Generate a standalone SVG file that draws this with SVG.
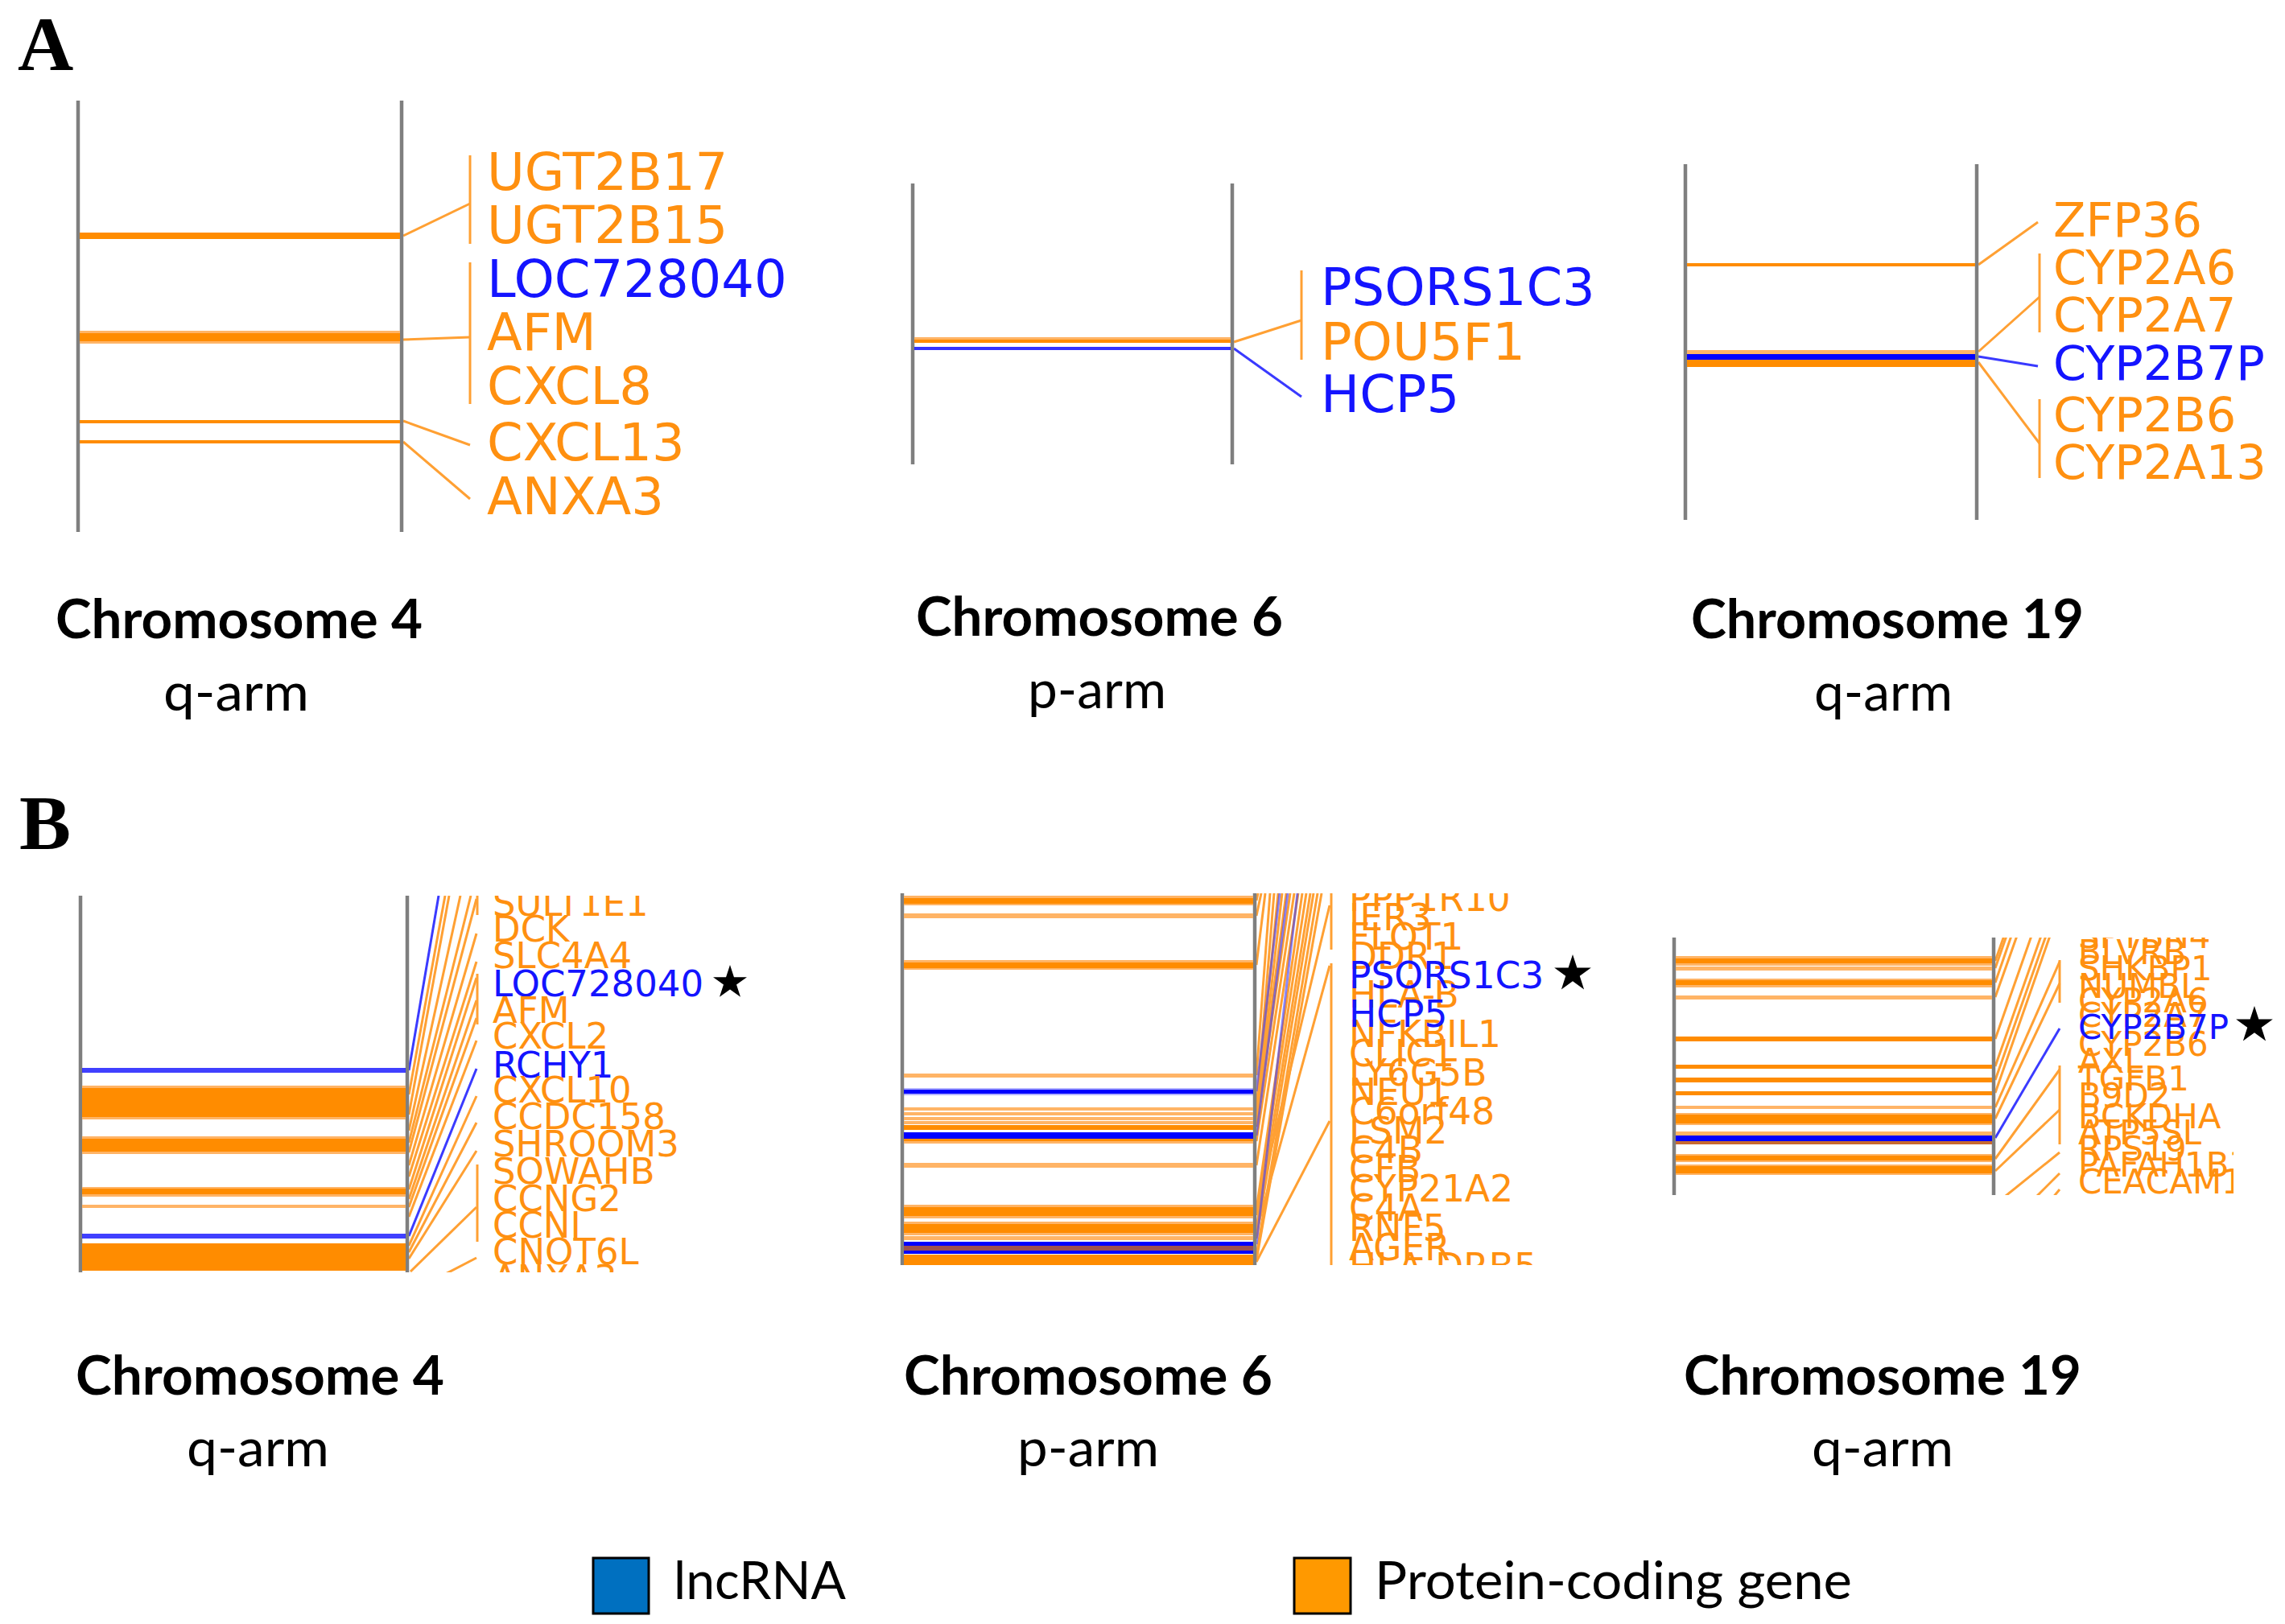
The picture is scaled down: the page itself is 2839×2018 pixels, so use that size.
<svg xmlns="http://www.w3.org/2000/svg" width="2839" height="2018" viewBox="0 0 2839 2018">
<defs>
<style>
.chr{stroke:#7f7f7f;stroke-width:4.5}
.co{stroke:#FFA033;stroke-width:3;fill:none}
.cb{stroke:#3A3AFF;stroke-width:3;fill:none}
.bo{fill:#FF8C00}
.bl{fill:#FFB466}
.bb{fill:#0000FF}
.g{font-family:'DejaVu Sans',Verdana,sans-serif}
.o{fill:#FF9010}
.b{fill:#1414FF}
.t{font-family:Lato,'Open Sans',sans-serif;font-weight:bold;font-size:66px;fill:#000}
.s{font-family:Lato,'Open Sans',sans-serif;font-size:66px;fill:#000}
.p{font-family:'Liberation Serif','Times New Roman',serif;font-weight:bold;font-size:96px;fill:#000}
</style>
<polygon id="star" points="0,-24 5.39,-7.42 22.83,-7.42 8.72,2.83 14.11,19.42 0,9.17 -14.11,19.42 -8.72,2.83 -22.83,-7.42 -5.39,-7.42" fill="#000"/>
<clipPath id="k4"><rect x="505" y="1113" width="100" height="468"/></clipPath>
<clipPath id="k6"><rect x="1559" y="1110" width="100" height="462"/></clipPath>
<clipPath id="k19"><rect x="2476" y="1165" width="90" height="320"/></clipPath>
<clipPath id="t4"><rect x="600" y="1113" width="280" height="468"/></clipPath>
<clipPath id="t6"><rect x="1665" y="1110" width="265" height="462"/></clipPath>
<clipPath id="t19"><rect x="2570" y="1165" width="205" height="320"/></clipPath>
</defs>
<rect width="2839" height="2018" fill="#fff"/>

<text class="p" x="22" y="87">A</text>
<text class="p" x="24" y="1055">B</text>

<g id="connectors">
<!-- Panel A chr4 -->
<line class="co" x1="501" y1="293" x2="584" y2="253"/>
<line class="co" x1="584" y1="193" x2="584" y2="303"/>
<line class="co" x1="501" y1="422" x2="584" y2="419"/>
<line class="co" x1="584" y1="326" x2="584" y2="502"/>
<line class="co" x1="501" y1="523" x2="584" y2="553"/>
<line class="co" x1="501" y1="549" x2="584" y2="620"/>
<!-- Panel A chr6 -->
<line class="co" x1="1533" y1="425" x2="1617" y2="398"/>
<line class="co" x1="1617" y1="336" x2="1617" y2="447"/>
<line class="cb" x1="1533" y1="433" x2="1617" y2="493"/>
<!-- Panel A chr19 -->
<line class="co" x1="2458" y1="329" x2="2532" y2="276"/>
<line class="co" x1="2458" y1="437" x2="2534" y2="369"/>
<line class="co" x1="2534" y1="315" x2="2534" y2="413"/>
<line class="cb" x1="2458" y1="443" x2="2532" y2="455"/>
<line class="co" x1="2458" y1="450" x2="2534" y2="551"/>
<line class="co" x1="2534" y1="496" x2="2534" y2="594"/>
<!-- Panel B chr4 -->
<g clip-path="url(#k4)">
<line class="co" x1="508" y1="1360" x2="553" y2="1113"/>
<line class="co" x1="508" y1="1385" x2="558" y2="1113"/>
<line class="co" x1="508" y1="1405" x2="572" y2="1113"/>
<line class="co" x1="508" y1="1420" x2="585" y2="1113"/>
<line class="co" x1="508" y1="1432" x2="592" y2="1117"/>
<line class="co" x1="508" y1="1448" x2="592" y2="1160"/>
<line class="co" x1="508" y1="1462" x2="592" y2="1195"/>
<line class="co" x1="508" y1="1478" x2="592" y2="1215"/>
<line class="co" x1="508" y1="1490" x2="592" y2="1243"/>
<line class="co" x1="508" y1="1500" x2="592" y2="1265"/>
<line class="co" x1="508" y1="1512" x2="592" y2="1293"/>
<line class="co" x1="508" y1="1548" x2="592" y2="1362"/>
<line class="co" x1="508" y1="1556" x2="592" y2="1395"/>
<line class="co" x1="508" y1="1564" x2="592" y2="1430"/>
<line class="co" x1="510" y1="1580" x2="592" y2="1500"/>
<line class="co" x1="540" y1="1590" x2="592" y2="1563"/>
<line class="cb" x1="508" y1="1330" x2="545" y2="1113"/>
<line class="cb" x1="508" y1="1536" x2="592" y2="1328"/>
<line class="co" x1="593" y1="1113" x2="593" y2="1137"/>
<line class="co" x1="593" y1="1210" x2="593" y2="1273"/>
<line class="co" x1="593" y1="1447" x2="593" y2="1543"/>
</g>
<!-- Panel B chr6 -->
<g clip-path="url(#k6)">
<line class="co" x1="1561" y1="1119" x2="1563" y2="1110"/>
<line class="co" x1="1561" y1="1138" x2="1567" y2="1110"/>
<line class="co" x1="1561" y1="1199" x2="1572" y2="1110"/>
<line class="co" x1="1561" y1="1336" x2="1578" y2="1110"/>
<line class="co" x1="1561" y1="1378" x2="1583" y2="1110"/>
<line class="co" x1="1561" y1="1384" x2="1588" y2="1110"/>
<line class="co" x1="1561" y1="1390" x2="1593" y2="1110"/>
<line class="co" x1="1561" y1="1395" x2="1598" y2="1110"/>
<line class="co" x1="1561" y1="1400" x2="1603" y2="1110"/>
<line class="co" x1="1561" y1="1418" x2="1608" y2="1110"/>
<line class="co" x1="1561" y1="1448" x2="1613" y2="1110"/>
<line class="co" x1="1561" y1="1503" x2="1618" y2="1110"/>
<line class="co" x1="1561" y1="1510" x2="1623" y2="1110"/>
<line class="co" x1="1561" y1="1526" x2="1628" y2="1110"/>
<line class="co" x1="1561" y1="1539" x2="1632" y2="1110"/>
<line class="co" x1="1561" y1="1560" x2="1637" y2="1110"/>
<line class="co" x1="1561" y1="1566" x2="1642" y2="1110"/>
<line class="co" x1="1561" y1="1505" x2="1652" y2="1125"/>
<line class="co" x1="1561" y1="1530" x2="1652" y2="1200"/>
<line class="co" x1="1561" y1="1568" x2="1652" y2="1393"/>
<line class="cb" x1="1561" y1="1356" x2="1590" y2="1110" stroke-opacity="0.6"/>
<line class="cb" x1="1561" y1="1411" x2="1600" y2="1110" stroke-opacity="0.6"/>
<line class="cb" x1="1561" y1="1546" x2="1612" y2="1110" stroke-opacity="0.6"/>
<line class="co" x1="1654" y1="1110" x2="1654" y2="1180"/>
<line class="co" x1="1654" y1="1197" x2="1654" y2="1572"/>
</g>
<!-- Panel B chr19 -->
<g clip-path="url(#k19)">
<line class="co" x1="2479" y1="1194" x2="2491" y2="1160"/>
<line class="co" x1="2479" y1="1203" x2="2494" y2="1160"/>
<line class="co" x1="2479" y1="1221" x2="2500" y2="1160"/>
<line class="co" x1="2479" y1="1239" x2="2507" y2="1160"/>
<line class="co" x1="2479" y1="1291" x2="2525" y2="1160"/>
<line class="co" x1="2479" y1="1325" x2="2537" y2="1160"/>
<line class="co" x1="2479" y1="1342" x2="2543" y2="1160"/>
<line class="co" x1="2479" y1="1358" x2="2548" y2="1160"/>
<line class="co" x1="2479" y1="1376" x2="2559" y2="1195"/>
<line class="co" x1="2479" y1="1390" x2="2559" y2="1222"/>
<line class="co" x1="2479" y1="1440" x2="2559" y2="1329"/>
<line class="co" x1="2479" y1="1455" x2="2559" y2="1379"/>
<line class="co" x1="2487" y1="1490" x2="2559" y2="1432"/>
<line class="co" x1="2527" y1="1490" x2="2559" y2="1458"/>
<line class="co" x1="2549" y1="1490" x2="2559" y2="1478"/>
<line class="cb" x1="2479" y1="1414" x2="2559" y2="1278"/>
<line class="co" x1="2559" y1="1193" x2="2559" y2="1246"/>
<line class="co" x1="2559" y1="1324" x2="2559" y2="1422"/>
</g>
</g>

<g id="A-chr4">
<line class="chr" x1="97" y1="125" x2="97" y2="661"/>
<line class="chr" x1="499" y1="125" x2="499" y2="661"/>
<rect class="bo" x="99" y="289" width="398" height="8"/>
<rect class="bl" x="99" y="411" width="398" height="16"/>
<rect class="bo" x="99" y="414" width="398" height="10"/>
<rect class="bo" x="99" y="522" width="398" height="4"/>
<rect class="bo" x="99" y="547" width="398" height="4"/>
<g class="g" font-size="64">
<text class="o" x="605" y="236">UGT2B17</text>
<text class="o" x="605" y="302">UGT2B15</text>
<text class="b" x="605" y="369">LOC728040</text>
<text class="o" x="605" y="435">AFM</text>
<text class="o" x="605" y="502">CXCL8</text>
<text class="o" x="605" y="572">CXCL13</text>
<text class="o" x="605" y="639">ANXA3</text>
</g>
<text class="t" x="69" y="793" textLength="456" lengthAdjust="spacingAndGlyphs">Chromosome 4</text>
<text class="s" x="203" y="883" textLength="181" lengthAdjust="spacingAndGlyphs">q-arm</text>
</g>

<g id="A-chr6">
<line class="chr" x1="1134" y1="228" x2="1134" y2="577"/>
<line class="chr" x1="1531" y1="228" x2="1531" y2="577"/>
<rect class="bl" x="1136" y="419" width="393" height="4"/>
<rect class="bo" x="1136" y="422" width="393" height="4"/>
<rect class="bb" x="1136" y="431" width="393" height="4" fill-opacity="0.8"/>
<g class="g" font-size="64">
<text class="b" x="1641" y="379">PSORS1C3</text>
<text class="o" x="1641" y="447">POU5F1</text>
<text class="b" x="1641" y="512">HCP5</text>
</g>
<text class="t" x="1138" y="790" textLength="456" lengthAdjust="spacingAndGlyphs">Chromosome 6</text>
<text class="s" x="1277" y="880" textLength="172" lengthAdjust="spacingAndGlyphs">p-arm</text>
</g>

<g id="A-chr19">
<line class="chr" x1="2094" y1="204" x2="2094" y2="646"/>
<line class="chr" x1="2456" y1="204" x2="2456" y2="646"/>
<rect class="bo" x="2096" y="327" width="358" height="4"/>
<rect class="bl" x="2096" y="435" width="358" height="5"/>
<rect class="bb" x="2096" y="440" width="358" height="7" fill="#1a10c0"/>
<rect class="bo" x="2096" y="447" width="358" height="9"/>
<g class="g" font-size="59">
<text class="o" x="2551" y="294">ZFP36</text>
<text class="o" x="2551" y="353">CYP2A6</text>
<text class="o" x="2551" y="412">CYP2A7</text>
<text class="b" x="2551" y="472">CYP2B7P</text>
<text class="o" x="2551" y="536">CYP2B6</text>
<text class="o" x="2551" y="595">CYP2A13</text>
</g>
<text class="t" x="2101" y="793" textLength="488" lengthAdjust="spacingAndGlyphs">Chromosome 19</text>
<text class="s" x="2254" y="883" textLength="172" lengthAdjust="spacingAndGlyphs">q-arm</text>
</g>

<g id="B-chr4">
<line class="chr" x1="100" y1="1113" x2="100" y2="1581"/>
<line class="chr" x1="506" y1="1113" x2="506" y2="1581"/>
<rect class="bb" x="102" y="1327" width="402" height="6" fill-opacity="0.75"/>
<rect class="bl" x="102" y="1349" width="402" height="42"/>
<rect class="bo" x="102" y="1352" width="402" height="36"/>
<rect class="bl" x="102" y="1412" width="402" height="22"/>
<rect class="bo" x="102" y="1415" width="402" height="16"/>
<rect class="bl" x="102" y="1475" width="402" height="12"/>
<rect class="bo" x="102" y="1477" width="402" height="7"/>
<rect class="bl" x="102" y="1497" width="402" height="4"/>
<rect class="bb" x="102" y="1533" width="402" height="6" fill-opacity="0.75"/>
<rect class="bo" x="102" y="1545" width="402" height="34"/>
<g class="g" font-size="45" clip-path="url(#t4)">
<text class="o" x="612" y="1138">SULT1E1</text>
<text class="o" x="612" y="1170">DCK</text>
<text class="o" x="612" y="1203">SLC4A4</text>
<text class="b" x="612" y="1238">LOC728040</text>
<text class="o" x="612" y="1271">AFM</text>
<text class="o" x="612" y="1303">CXCL2</text>
<text class="b" x="612" y="1339">RCHY1</text>
<text class="o" x="612" y="1370">CXCL10</text>
<text class="o" x="612" y="1403">CCDC158</text>
<text class="o" x="612" y="1437">SHROOM3</text>
<text class="o" x="612" y="1471">SOWAHB</text>
<text class="o" x="612" y="1505">CCNG2</text>
<text class="o" x="612" y="1538">CCNI</text>
<text class="o" x="612" y="1571">CNOT6L</text>
<text class="o" x="612" y="1604">ANXA3</text>
</g>
<use href="#star" transform="translate(907,1221) scale(0.92)"/>
<text class="t" x="94" y="1733" textLength="458" lengthAdjust="spacingAndGlyphs">Chromosome 4</text>
<text class="s" x="232" y="1822" textLength="177" lengthAdjust="spacingAndGlyphs">q-arm</text>
</g>

<g id="B-chr6">
<line class="chr" x1="1121" y1="1110" x2="1121" y2="1572"/>
<line class="chr" x1="1559" y1="1110" x2="1559" y2="1572"/>
<rect class="bl" x="1123" y="1113" width="434" height="12"/>
<rect class="bo" x="1123" y="1116" width="434" height="7"/>
<rect class="bl" x="1123" y="1135" width="434" height="6"/>
<rect class="bl" x="1123" y="1193" width="434" height="12"/>
<rect class="bo" x="1123" y="1196" width="434" height="7"/>
<rect class="bl" x="1123" y="1334" width="434" height="5"/>
<rect class="bb" x="1123" y="1352" width="434" height="9" fill-opacity="0.3"/>
<rect class="bb" x="1123" y="1354" width="434" height="5"/>
<rect class="bl" x="1123" y="1376" width="434" height="4"/>
<rect class="bl" x="1123" y="1382" width="434" height="4"/>
<rect class="bl" x="1123" y="1388" width="434" height="4"/>
<rect class="bl" x="1123" y="1393" width="434" height="4"/>
<rect class="bo" x="1123" y="1398" width="434" height="6"/>
<rect class="bb" x="1123" y="1407" width="434" height="8"/>
<rect class="bo" x="1123" y="1415" width="434" height="3"/>
<rect class="bl" x="1123" y="1418" width="434" height="3" fill="#FFD27A"/>
<rect class="bl" x="1123" y="1445" width="434" height="6"/>
<rect class="bl" x="1123" y="1497" width="434" height="17"/>
<rect class="bo" x="1123" y="1500" width="434" height="11"/>
<rect class="bl" x="1123" y="1518" width="434" height="17"/>
<rect class="bo" x="1123" y="1521" width="434" height="11"/>
<rect class="bl" x="1123" y="1536" width="434" height="5"/>
<rect class="bb" x="1123" y="1543" width="434" height="5"/>
<rect x="1123" y="1548" width="434" height="6" fill="#9C5050"/>
<rect class="bb" x="1123" y="1554" width="434" height="4"/>
<rect class="bo" x="1123" y="1559" width="434" height="13"/>
<g class="g" font-size="45.5" clip-path="url(#t6)">
<text class="o" x="1676" y="1132">PPP1R10</text>
<text class="o" x="1676" y="1156">IER3</text>
<text class="o" x="1676" y="1180">FLOT1</text>
<text class="o" x="1676" y="1204">DDR1</text>
<text class="o" x="1676" y="1252">HLA-B</text>
<text class="o" x="1676" y="1301">NFKBIL1</text>
<text class="o" x="1676" y="1325">CLIC1</text>
<text class="o" x="1676" y="1349">LY6G5B</text>
<text class="o" x="1676" y="1373">NEU1</text>
<text class="o" x="1676" y="1397">C6orf48</text>
<text class="o" x="1676" y="1421">LSM2</text>
<text class="o" x="1676" y="1445">C4B</text>
<text class="o" x="1676" y="1469">CFB</text>
<text class="o" x="1676" y="1493">CYP21A2</text>
<text class="o" x="1676" y="1517">C4A</text>
<text class="o" x="1676" y="1542">RNF5</text>
<text class="o" x="1676" y="1566">AGER</text>
<text class="o" x="1676" y="1590">HLA-DRB5</text>
<text class="b" x="1676" y="1228">PSORS1C3</text>
<text class="b" x="1676" y="1276">HCP5</text>
</g>
<use href="#star" transform="translate(1954,1210)"/>
<text class="t" x="1123" y="1733" textLength="458" lengthAdjust="spacingAndGlyphs">Chromosome 6</text>
<text class="s" x="1264" y="1822" textLength="176" lengthAdjust="spacingAndGlyphs">p-arm</text>
</g>

<g id="B-chr19">
<line class="chr" x1="2080" y1="1165" x2="2080" y2="1485"/>
<line class="chr" x1="2477" y1="1165" x2="2477" y2="1485"/>
<rect class="bl" x="2082" y="1188" width="393" height="12"/>
<rect class="bo" x="2082" y="1191" width="393" height="6"/>
<rect class="bl" x="2082" y="1201" width="393" height="5"/>
<rect class="bl" x="2082" y="1216" width="393" height="11"/>
<rect class="bo" x="2082" y="1218" width="393" height="6"/>
<rect class="bl" x="2082" y="1237" width="393" height="5"/>
<rect class="bo" x="2082" y="1288" width="393" height="6"/>
<rect class="bo" x="2082" y="1323" width="393" height="5"/>
<rect class="bo" x="2082" y="1339" width="393" height="6"/>
<rect class="bo" x="2082" y="1356" width="393" height="5"/>
<rect class="bl" x="2082" y="1374" width="393" height="4"/>
<rect class="bl" x="2082" y="1383" width="393" height="15"/>
<rect class="bo" x="2082" y="1385" width="393" height="11"/>
<rect class="bl" x="2082" y="1406" width="393" height="5" fill="#FFCC66"/>
<rect class="bb" x="2082" y="1411" width="393" height="7"/>
<rect x="2082" y="1418" width="393" height="4" fill="#C86A30"/>
<rect class="bl" x="2082" y="1434" width="393" height="10"/>
<rect class="bo" x="2082" y="1436" width="393" height="6"/>
<rect class="bl" x="2082" y="1447" width="393" height="13"/>
<rect class="bo" x="2082" y="1449" width="393" height="9"/>
<g class="g" font-size="42" clip-path="url(#t19)">
<text class="o" x="2582" y="1178">SPTBN4</text>
<text class="o" x="2582" y="1198">BLVRB</text>
<text class="o" x="2582" y="1218">SHKBP1</text>
<text class="o" x="2582" y="1240">NUMBL</text>
<text class="o" x="2582" y="1258">CYP2A6</text>
<text class="o" x="2582" y="1276">CYP2A7</text>
<text class="o" x="2582" y="1312">CYP2B6</text>
<text class="o" x="2582" y="1333">AXL</text>
<text class="o" x="2582" y="1355">TGFB1</text>
<text class="o" x="2582" y="1376">B9D2</text>
<text class="o" x="2582" y="1402">BCKDHA</text>
<text class="o" x="2582" y="1422">ATP5SL</text>
<text class="o" x="2582" y="1442">RPS19</text>
<text class="o" x="2582" y="1462">PAFAH1B3</text>
<text class="o" x="2582" y="1483">CEACAM1</text>
<text class="b" x="2582" y="1291">CYP2B7P</text>
</g>
<use href="#star" transform="translate(2801,1274)"/>
<text class="t" x="2092" y="1733" textLength="494" lengthAdjust="spacingAndGlyphs">Chromosome 19</text>
<text class="s" x="2251" y="1822" textLength="176" lengthAdjust="spacingAndGlyphs">q-arm</text>
</g>

<g id="legend">
<rect x="737" y="1936" width="69" height="69" fill="#0070C0" stroke="#000" stroke-width="3"/>
<text class="s" x="837" y="1987" textLength="214" lengthAdjust="spacingAndGlyphs">lncRNA</text>
<rect x="1608" y="1936" width="70" height="69" fill="#FF9900" stroke="#000" stroke-width="3"/>
<text class="s" x="1708" y="1987" textLength="593" lengthAdjust="spacingAndGlyphs">Protein-coding gene</text>
</g>
</svg>
